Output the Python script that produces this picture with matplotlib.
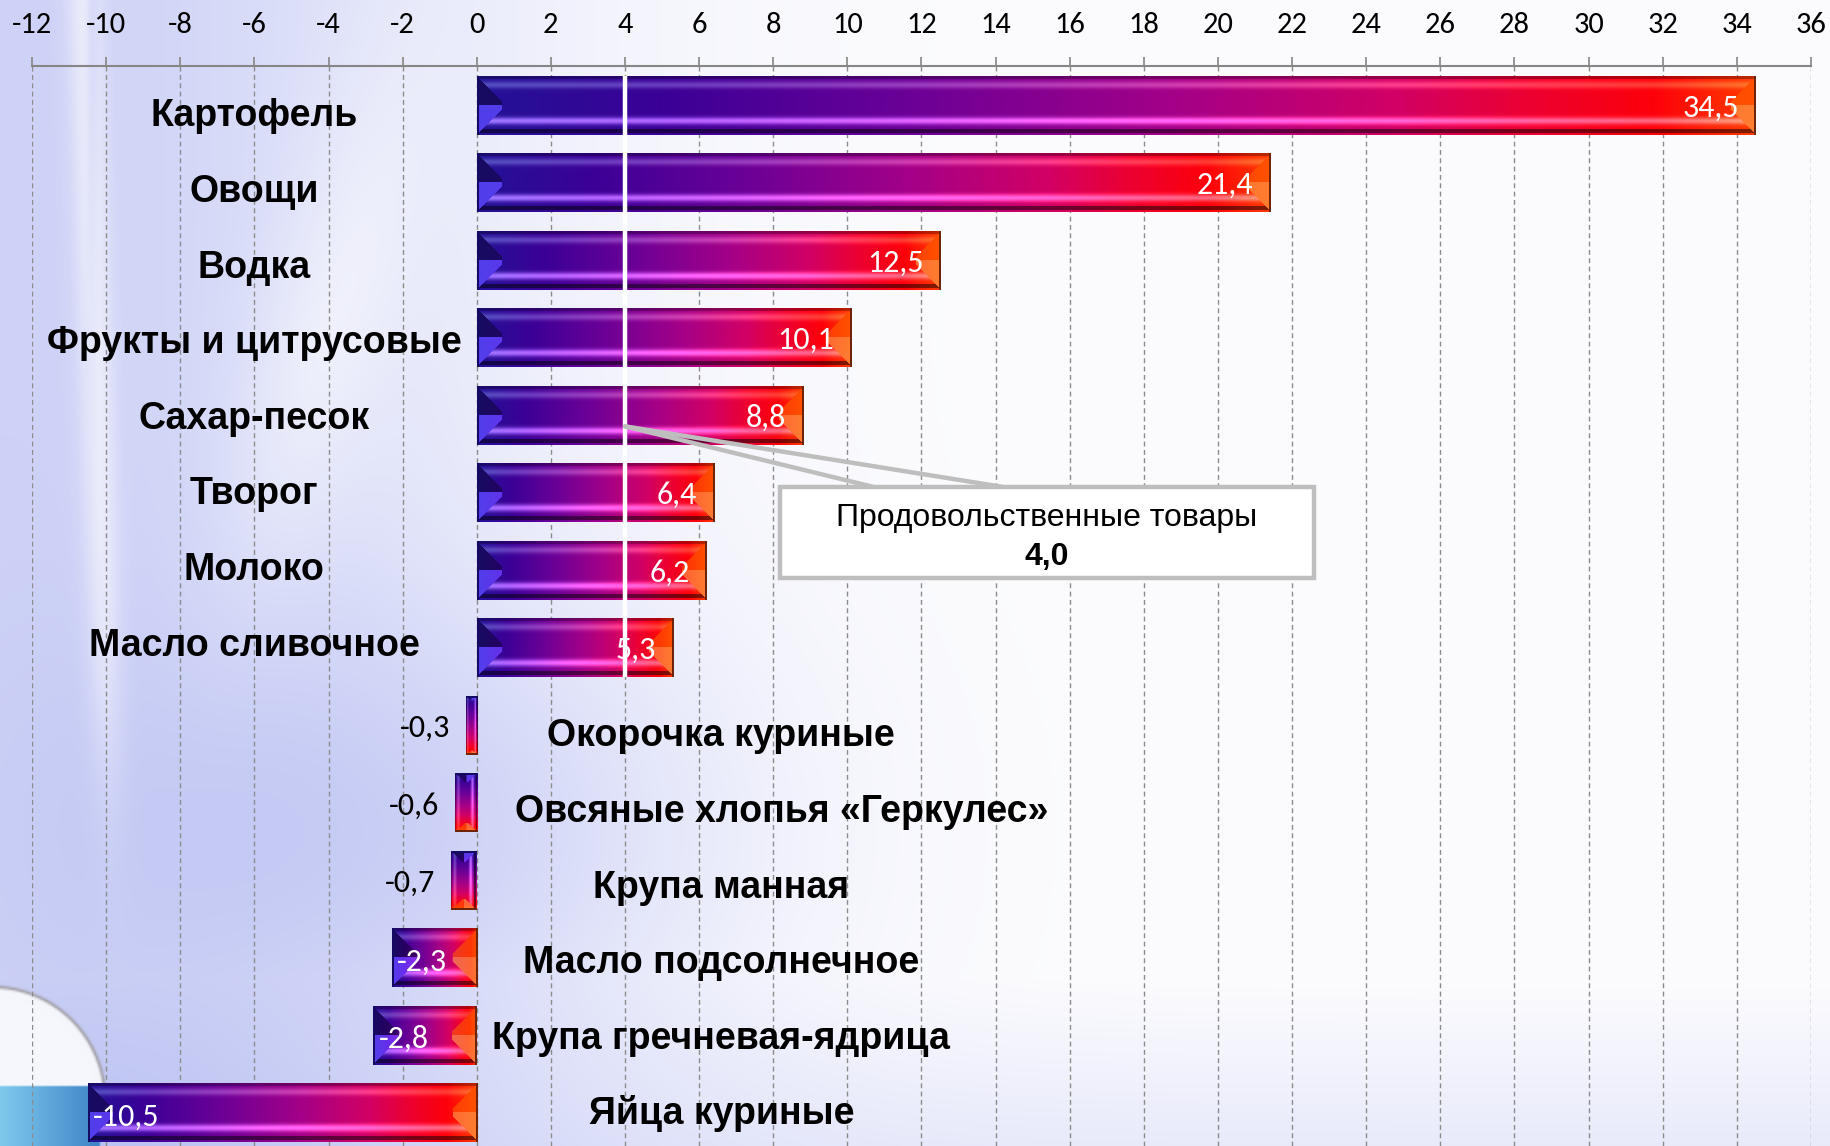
import numpy as np
import matplotlib
matplotlib.use('Agg')
import matplotlib.pyplot as plt
from matplotlib.patches import Rectangle
from matplotlib import font_manager

# ---------------- data ----------------
categories = ['Картофель', 'Овощи', 'Водка', 'Фрукты и цитрусовые', 'Сахар-песок',
              'Творог', 'Молоко', 'Масло сливочное', 'Окорочка куриные',
              'Овсяные хлопья «Геркулес»', 'Крупа манная', 'Масло подсолнечное',
              'Крупа гречневая-ядрица', 'Яйца куриные']
values = [34.5, 21.4, 12.5, 10.1, 8.8, 6.4, 6.2, 5.3, -0.3, -0.6, -0.7, -2.3, -2.8, -10.5]
average_label = 'Продовольственные товары'
average_value = 4.0
ticks = list(range(-12, 37, 2))

# ---------------- fonts ----------------
avail = {f.name for f in font_manager.fontManager.ttflist}
def pick(*names):
    for n in names:
        if n in avail:
            return n
    return 'DejaVu Sans'
NUM_FONT = pick('Carlito', 'Lato', 'Open Sans')
LBL_FONT = pick('Liberation Sans', 'Arial', 'DejaVu Sans')

W, H = 1831, 1146
fig = plt.figure(figsize=(W / 100, H / 100), dpi=100)

# ---------------- background ----------------
hh, ww = 573, 916
ys = (np.arange(hh) + 0.5) * H / hh
xs = (np.arange(ww) + 0.5) * W / ww
X, Y = np.meshgrid(xs, ys)
w = 0.72 * np.exp(-(X / 480) ** 2)
w += 0.42 * np.exp(-((X - 430) / 330) ** 2 - ((Y - 830) / 230) ** 2)
w += 0.30 * np.clip((Y - 980) / 166, 0, 1)
streak = np.exp(-((X - 85 - 0.03 * Y) / 18) ** 2) / (1 + np.exp((Y - 750) / 60))
w -= 0.45 * streak
w += 0.25 * np.exp(-((X - 92) / 6) ** 2) * np.exp(-(Y / 350) ** 2)
swirl = np.exp(-((X - 330 + 0.25 * (Y - 300)) / 70) ** 2) * np.exp(-((Y - 350) / 250) ** 2)
w -= 0.25 * swirl
w = np.clip(w, 0, 1)[..., None]
white = np.array([252, 252, 254.0])
lav = np.array([188, 194, 243.0])
bg = white * (1 - w) + lav * w
d = np.hypot(X + 8, Y - 1100)
inside = (d < 113)[..., None]
bg = np.where(inside, np.array([246, 247, 252.0]), bg)
ringw = np.exp(-((d - 113) / 1.6) ** 2)[..., None]
bg = bg * (1 - ringw) + np.array([160, 160, 166.0]) * ringw
rect = ((Y > 1085) & (X < 100))[..., None]
fx = np.clip(X / 100, 0, 1)[..., None]
blue = np.array([128, 202, 238.0]) * (1 - fx) + np.array([62, 132, 198.0]) * fx
bg = np.where(rect, blue, bg)

bgax = fig.add_axes([0, 0, 1, 1])
bgax.imshow(np.clip(bg, 0, 255).astype(np.uint8), extent=(0, W, H, 0),
            aspect='auto', interpolation='bilinear')
bgax.set_xlim(0, W)
bgax.set_ylim(H, 0)
bgax.axis('off')

# ---------------- main axes ----------------
ax = fig.add_axes([32 / W, 0, 1779 / W, 1080 / H])
ax.patch.set_alpha(0)
XLIM = (-12, 36)
YLIM = (13.426, -0.5097)
ax.set_xlim(*XLIM)
ax.set_ylim(*YLIM)

p0 = ax.transData.transform((0, 0))
p1 = ax.transData.transform((1, 1))
px_x = abs(p1[0] - p0[0])
px_y = abs(p1[1] - p0[1])

bar_h = 0.76

stop_t = np.array([0.0, 0.15, 0.35, 0.55, 0.72, 0.82, 0.92, 1.0])
stop_c = np.array([[35, 18, 150], [60, 0, 150], [110, 0, 150], [165, 0, 135],
                   [210, 0, 100], [235, 0, 50], [253, 0, 10], [255, 60, 0]], float)

def grad(t):
    return np.stack([np.interp(t, stop_t, stop_c[:, k]) for k in range(3)], -1)

def bar_image(w_px, h_px):
    horizontal = w_px >= h_px
    L = w_px if horizontal else h_px
    Hc = h_px if horizontal else w_px
    nL = max(int(round(L)), 2)
    nH = max(int(round(Hc)), 2)
    U, S = np.meshgrid(np.arange(nL) + 0.5, np.arange(nH) + 0.5)
    t = U / nL
    vv = S / nH
    base = grad(t)
    top = np.exp(-((vv - 0.15) / 0.06) ** 2)[..., None]
    hl = np.exp(-((vv - 0.76) / 0.06) ** 2)[..., None]
    col = base + top * np.array([45, 60, 40.0]) + hl * np.array([120, 100, 115.0])
    dark = np.ones_like(vv)
    dark = np.where(vv < 0.05, 0.72, dark)
    dark = np.where((vv > 0.9) & (vv < 0.965), 0.5, dark)
    col = col * dark[..., None]
    b = min(0.42 * nH, nL / 2)
    dv = np.minimum(S, nH - S)
    upper = (S < nH / 2)[..., None]
    lf = (U < np.minimum(dv, b))[..., None]
    lf_col = np.where(upper, base * 0.65, base + np.array([45, 45, 85.0]))
    col = np.where(lf, lf_col, col)
    rf = ((nL - U) < np.minimum(dv, b))[..., None]
    rf_col = np.where(upper, base * 0.45 + np.array([255, 100, 0.0]) * 0.55,
                      base * 0.4 + np.array([255, 170, 80.0]) * 0.6)
    col = np.where(rf, rf_col, col)
    col = np.where(((nL - U) < 1.6)[..., None], np.array([110, 35, 10.0]), col)
    col = np.where((U < 1.6)[..., None], np.array([20, 10, 100.0]), col)
    col = np.clip(col, 0, 255) / 255.0
    if not horizontal:
        col = np.transpose(col, (1, 0, 2))
    return col

for i, v in enumerate(values):
    x0, x1 = min(0, v), max(0, v)
    img = bar_image((x1 - x0) * px_x, bar_h * px_y)
    ax.imshow(img, extent=(x0, x1, i + bar_h / 2, i - bar_h / 2), origin='upper',
              aspect='auto', interpolation='bilinear', zorder=2)

ax.set_xlim(*XLIM)
ax.set_ylim(*YLIM)

# grid / axis
ax.set_xticks(ticks)
ax.set_xticklabels([str(t) for t in ticks], fontfamily=NUM_FONT, fontsize=22)
ax.xaxis.tick_top()
ax.tick_params(axis='x', direction='out', length=6.5, width=1.2, color='#868686',
               pad=13.5, labelcolor='black')
ax.set_yticks([])
ax.xaxis.grid(True, color='#8c8c8c', linestyle=(0, (3.5, 2.5)), linewidth=1.0)
ax.set_axisbelow(True)
for s in ['left', 'right', 'bottom']:
    ax.spines[s].set_visible(False)
ax.spines['top'].set_color('#868686')
ax.spines['top'].set_linewidth(1.5)

# average line
n_pos = sum(1 for v in values if v > 0)
ax.plot([average_value, average_value], [-bar_h / 2, n_pos - 1 + bar_h / 2],
        color='white', lw=3.2, zorder=3, solid_capstyle='butt')

def fmt(v):
    return f'{v:.1f}'.replace('.', ',')

label_step = 0.976
for i, (c, v) in enumerate(zip(categories, values)):
    if v > 0:
        lx = -6.0
        ly = 0.268 + label_step * i
        ax.annotate(fmt(v), (v, i + 0.14), xytext=(-12, 0), textcoords='offset points',
                    ha='right', va='baseline', color='white', fontsize=23,
                    fontfamily=NUM_FONT, zorder=5)
    else:
        lx = 8.24 if c.startswith('Овсяные') else 6.6
        ly = n_pos + 0.268 + label_step * (i - n_pos)
        if abs(v) >= 1:
            ax.annotate(fmt(v), (v, i + 0.16), xytext=(4, 0), textcoords='offset points',
                        ha='left', va='baseline', color='white', fontsize=23,
                        fontfamily=NUM_FONT, zorder=5)
        else:
            ax.annotate(fmt(v), (v, i + 0.15), xytext=(-11, 0), textcoords='offset points',
                        ha='right', va='baseline', color='black', fontsize=23,
                        fontfamily=NUM_FONT, zorder=5)
    ax.text(lx, ly, c, ha='center', va='baseline', fontsize=27,
            fontweight='bold', fontfamily=LBL_FONT, color='black', zorder=5)

# callout
bx0, bx1, by0, by1 = 8.18, 22.58, 4.92, 6.10
tip = (average_value, 4.14)
for bxp in (10.69, 14.17):
    ax.plot([tip[0], bxp], [tip[1], by0], color='#bebebe', lw=3.2, zorder=4,
            solid_capstyle='round')
ax.add_patch(Rectangle((bx0, by0), bx1 - bx0, by1 - by0, facecolor='white',
                       edgecolor='#bebebe', lw=3.2, zorder=4))
cx = (bx0 + bx1) / 2
ax.text(cx, 5.32, average_label, ha='center', va='center', fontsize=23,
        fontfamily=LBL_FONT, color='black', zorder=5)
ax.text(cx, 5.82, fmt(average_value), ha='center', va='center', fontsize=23,
        fontweight='bold', fontfamily=LBL_FONT, color='black', zorder=5)

fig.savefig('out.png', dpi=100)
